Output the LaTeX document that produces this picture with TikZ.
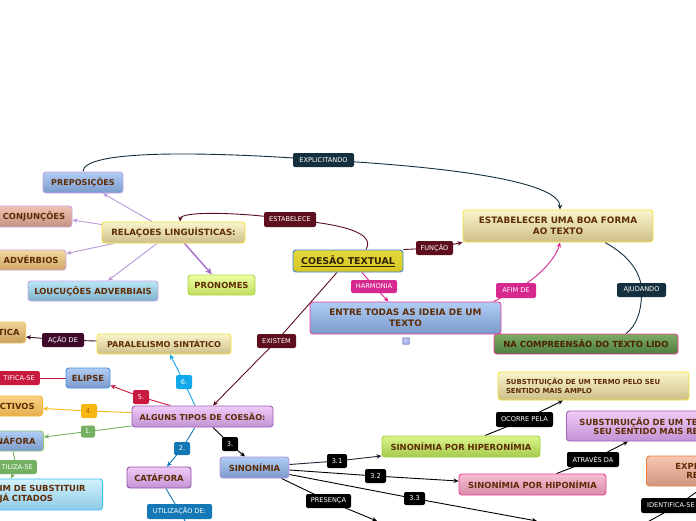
\documentclass[tikz,border=0pt]{standalone}
\usepackage{fontspec}
\setmainfont{DejaVu Sans}
\usetikzlibrary{arrows.meta}
\pgfdeclarelayer{bg}
\pgfdeclarelayer{edges}
\pgfsetlayers{bg,edges,main}
\definecolor{ntext}{HTML}{5E2C06}
\definecolor{navyc}{HTML}{14303F}
\definecolor{maroonc}{HTML}{5E0F1F}
\definecolor{pinkc}{HTML}{D6288E}
\definecolor{acaoc}{HTML}{3E0A2C}
\definecolor{redc}{HTML}{C8193E}
\definecolor{cyanc}{HTML}{12A8EC}
\definecolor{orangec}{HTML}{F8B612}
\definecolor{greenc}{HTML}{74B062}
\definecolor{bluec}{HTML}{1478B6}
\definecolor{lpurple}{HTML}{B89AD8}
\definecolor{pronc}{HTML}{A874CC}
\definecolor{blT}{HTML}{B0CDF4}
\definecolor{blB}{HTML}{7A9ACB}
\definecolor{yeT}{HTML}{FAF5CC}
\definecolor{yeB}{HTML}{CDBE88}
\definecolor{yeD}{HTML}{F2E23C}
\definecolor{puT}{HTML}{F0CCF8}
\definecolor{puB}{HTML}{C292D4}
\definecolor{puD}{HTML}{A060B8}
\definecolor{bdpurp}{HTML}{C8A6E6}
\definecolor{pkD}{HTML}{E8409C}
\definecolor{cjT}{HTML}{F0C2B2}\definecolor{cjB}{HTML}{C69282}
\definecolor{adT}{HTML}{F4D8A2}\definecolor{adB}{HTML}{CFA664}
\definecolor{loT}{HTML}{BAE6F6}\definecolor{loB}{HTML}{7EB2CA}
\definecolor{prT}{HTML}{EEFFA2}\definecolor{prB}{HTML}{C2DE5E}\definecolor{prD}{HTML}{A8D840}
\definecolor{coT}{HTML}{E6D83A}\definecolor{coB}{HTML}{D6C628}\definecolor{coD}{HTML}{3C88D8}\definecolor{coX}{HTML}{2E2200}
\definecolor{naT}{HTML}{7EAC62}\definecolor{naB}{HTML}{4E7E40}\definecolor{naX}{HTML}{4A2200}
\definecolor{tiT}{HTML}{F0D294}\definecolor{tiB}{HTML}{C8A060}\definecolor{tiD}{HTML}{E8C860}
\definecolor{elD}{HTML}{4890E0}
\definecolor{ecT}{HTML}{F8D282}\definecolor{ecB}{HTML}{E6AE50}\definecolor{ecD}{HTML}{F8B830}
\definecolor{nfD}{HTML}{90C870}
\definecolor{imT}{HTML}{D2F2FC}\definecolor{imB}{HTML}{8ECAE8}\definecolor{imD}{HTML}{40C0F0}
\definecolor{caD}{HTML}{9050A8}
\definecolor{siD}{HTML}{B890E0}
\definecolor{hiT}{HTML}{DAF58A}\definecolor{hiB}{HTML}{A6CA4E}\definecolor{hiD}{HTML}{A0D040}
\definecolor{hoT}{HTML}{F8BED2}\definecolor{hoB}{HTML}{D68CA8}
\definecolor{exT}{HTML}{F8C6B2}\definecolor{exB}{HTML}{CE9680}\definecolor{exD}{HTML}{F08040}
\definecolor{bgD}{HTML}{8080C0}\definecolor{bgF}{HTML}{A8B0E8}
\tikzset{
  box/.style={rounded corners=3pt, line width=0.9pt, font=\bfseries\fontsize{8.4}{10}\selectfont, text=ntext, align=center, inner sep=0pt},
  bluefill/.style={top color=blT, bottom color=blB},
  yelfill/.style={top color=yeT, bottom color=yeB},
  purfill/.style={top color=puT, bottom color=puB},
  lab/.style={rounded corners=2pt, text=white, font=\fontsize{6.6}{7.5}\selectfont, inner sep=0pt, minimum height=14},
  tip/.style={-{Stealth[length=5pt,width=4.5pt]}},
  edge/.style={line width=0.9pt}
}
\begin{document}
\begin{tikzpicture}[x=1pt,y=-1pt]
\useasboundingbox (0,0) rectangle (696,520);
\begin{pgfonlayer}{bg}\fill[white] (0,0) rectangle (696,520);\end{pgfonlayer}
\clip (0,0) rectangle (696,520);

% ---------- nodes ----------
\node[box, bluefill, draw=bdpurp, minimum width=80, minimum height=21, font=\bfseries\fontsize{8.1}{10}\selectfont] (prep) at (83,182.5) {PREPOSIÇÕES};
\node[box, top color=cjT, bottom color=cjB, draw=bdpurp, minimum width=76, minimum height=21] (conj) at (34,216.5) {CONJUNÇÕES};
\node[box, yelfill, draw=yeD, minimum width=143, minimum height=21, font=\bfseries\fontsize{8.6}{10}\selectfont] (rel) at (173.5,232.5) {RELAÇOES LINGUÍSTICAS:};
\node[box, top color=adT, bottom color=adB, draw=bdpurp, minimum width=70, minimum height=20] (adv) at (31,260) {ADVÉRBIOS};
\node[box, top color=loT, bottom color=loB, draw=bdpurp, minimum width=130, minimum height=20] (louc) at (93,291) {LOUCUÇÕES ADVERBIAIS};
\node[box, top color=prT, bottom color=prB, draw=prD, minimum width=67, minimum height=20] (pron) at (221.5,285) {PRONOMES};
\node[box, top color=coT, bottom color=coB, draw=coD, text=coX, minimum width=110, minimum height=22, font=\bfseries\fontsize{9.4}{11}\selectfont] (coesao) at (348,261) {\underline{COESÃO TEXTUAL}};
\node[box, yelfill, draw=yeD, minimum width=190, minimum height=32, font=\bfseries\fontsize{8.9}{11}\selectfont] (estab) at (558,226) {ESTABELECER UMA BOA FORMA\\AO TEXTO};
\node[box, bluefill, draw=pkD, minimum width=191, minimum height=32, font=\bfseries\fontsize{8.9}{10.8}\selectfont] (entre) at (405.5,318) {ENTRE TODAS AS IDEIA DE UM\\TEXTO};
\node[box, top color=naT, bottom color=naB, draw=pkD, text=naX, minimum width=184, minimum height=20] (na) at (586,344) {NA COMPREENSÃO DO TEXTO LIDO};
\node[box, yelfill, draw=yeD, minimum width=134, minimum height=20, font=\bfseries\fontsize{8.1}{10}\selectfont] (paral) at (164,344) {PARALELISMO SINTÁTICO};
\node[box, top color=tiT, bottom color=tiB, draw=tiD, anchor=east, text width=30, align=right, inner xsep=6, minimum height=21] (tica) at (26,332.5) {TICA};
\node[box, bluefill, draw=elD, minimum width=44, minimum height=20] (elipse) at (88,378) {ELIPSE};
\node[box, top color=ecT, bottom color=ecB, draw=ecD, anchor=east, text width=45, align=right, inner xsep=8, minimum height=20] (ect) at (43,406) {ECTIVOS};
\node[box, purfill, draw=puD, minimum width=141, minimum height=21, font=\bfseries\fontsize{8.1}{10}\selectfont] (alg) at (202.5,416.5) {ALGUNS TIPOS DE COESÃO:};
\node[box, bluefill, draw=nfD, anchor=east, text width=40, align=right, inner xsep=8, minimum height=20] (naf) at (44,441) {NÁFORA};
\node[box, top color=imT, bottom color=imB, draw=imD, anchor=east, text width=95, align=left, inner xsep=8, minimum height=31, font=\bfseries\fontsize{8.4}{10}\selectfont] (im) at (103,494.5) {IM DE SUBSTITUIR\\JÁ CITADOS};
\node[box, purfill, draw=caD, minimum width=64, minimum height=21] (cat) at (159,477.5) {CATÁFORA};
\node[box, bluefill, draw=siD, minimum width=69, minimum height=21] (sin) at (254.5,467.5) {SINONÍMIA};
\node[box, top color=hiT, bottom color=hiB, draw=hiD, minimum width=158, minimum height=21] (hiper) at (461,446.5) {SINONÍMIA POR HIPERONÍMIA};
\node[box, yelfill, draw=yeD, minimum width=191, minimum height=28, text width=175, align=left, font=\bfseries\fontsize{6.9}{8.4}\selectfont] (subA) at (593.5,386) {SUBSTITUIÇÃO DE UM TERMO PELO SEU\\SENTIDO MAIS AMPLO};
\node[box, purfill, draw=puD, anchor=west, text width=170, align=left, inner xsep=13, minimum height=30, font=\bfseries\fontsize{8.4}{9.4}\selectfont] (subB) at (566,426) {SUBSTIRUIÇÃO DE UM TE\\\hspace*{14pt}SEU SENTIDO MAIS RE};
\node[box, top color=hoT, bottom color=hoB, draw=pkD, minimum width=147, minimum height=21] (hipo) at (532.5,484.5) {SINONÍMIA POR HIPONÍMIA};
\node[box, top color=exT, bottom color=exB, draw=exD, anchor=west, text width=50, align=left, inner xsep=29, minimum height=30, font=\bfseries\fontsize{8.4}{9.4}\selectfont] (expr) at (646,471) {EXPR\\\hspace*{11pt}RE};
\node[draw=bgD, fill=bgF, rounded corners=1pt, minimum size=7, inner sep=0pt, font=\fontsize{5}{5}\selectfont, text=white] (badge) at (406,341) {1};

% ---------- labels ----------
\node[lab, fill=navyc, minimum width=61] (explic) at (323.5,160) {EXPLICITANDO};
\node[lab, fill=maroonc, minimum width=52, minimum height=15] (estabelece) at (290,219.5) {ESTABELECE};
\node[lab, fill=maroonc, minimum width=37] (funcao) at (434.5,248) {FUNÇÃO};
\node[lab, fill=pinkc, minimum width=46, minimum height=13] (harmonia) at (374,286.5) {HARMONIA};
\node[lab, fill=pinkc, minimum width=40, minimum height=15] (afim) at (516,290.5) {AFIM DE};
\node[lab, fill=navyc, minimum width=49] (ajudando) at (641.5,290) {AJUDANDO};
\node[lab, fill=maroonc, minimum width=39] (existem) at (276.5,341) {EXISTEM};
\node[lab, fill=acaoc, minimum width=42] (acao) at (63,340) {AÇÃO DE};
\node[lab, fill=redc, anchor=east, text width=35, align=right, inner xsep=5] (tifica) at (40,378) {TIFICA-SE};
\node[lab, fill=redc, minimum width=16] (five) at (141,397) {5.};
\node[lab, fill=cyanc, minimum width=16] (six) at (184,382) {6.};
\node[lab, fill=orangec, text=ntext!60!orangec, minimum width=16] (four) at (89,411) {4.};
\node[lab, fill=greenc, minimum width=14, minimum height=12] (one) at (88,431.5) {1.};
\node[lab, fill=bluec, minimum width=16, minimum height=13] (two) at (182,448.5) {2.};
\node[lab, fill=black, minimum width=16] (three) at (230,444) {3.};
\node[lab, fill=greenc, anchor=east, text width=33, align=right, inner xsep=4] (utiliza) at (37,467) {TILIZA-SE};
\node[lab, fill=bluec, minimum width=65, minimum height=15] (utilizacao) at (179.5,511.5) {UTILIZAÇÃO DE:};
\node[lab, fill=black, minimum width=20] (t31) at (337,461) {3.1};
\node[lab, fill=black, minimum width=21] (t32) at (375.5,476) {3.2};
\node[lab, fill=black, minimum width=21, minimum height=13] (t33) at (414.5,498.5) {3.3};
\node[lab, fill=black, minimum width=45] (presenca) at (328.5,501) {PRESENÇA};
\node[lab, fill=black, minimum width=57, minimum height=15] (ocorre) at (524.5,419.5) {OCORRE PELA};
\node[lab, fill=black, minimum width=52, minimum height=15] (atraves) at (593,459.5) {ATRAVÉS DA};
\node[lab, fill=black, anchor=west, text width=60, align=left, inner xsep=6, minimum height=15] (ident) at (641,505.5) {IDENTIFICA-SE};

\coordinate (utilend) at (188,526);
\coordinate (e33) at (537,521);
\coordinate (epres) at (377,521);
\coordinate (idA) at (644,524);
\coordinate (idB) at (708,484);

% ---------- connectors ----------
\begin{pgfonlayer}{edges}
\draw[edge, navyc, tip] (prep.north) .. controls (83,150) and (200,151) .. (explic.center) .. controls (470,168) and (560,184) .. ([xshift=2]estab.north);
\draw[edge, maroonc, tip] ([xshift=18]coesao.north) .. controls (376,232) and (340,224) .. (estabelece.center) .. controls (240,212) and (181,211) .. ([xshift=6.5]rel.north);
\draw[edge, maroonc, tip] (coesao.north east) -- (funcao.center) -- (estab.south west);
\draw[edge, pinkc, tip] ([xshift=14]coesao.south) -- (harmonia.center) -- ([xshift=-17]entre.north);
\draw[edge, pinkc, tip] ([xshift=-8]entre.north east) -- (afim.center) .. controls (540,276) and (556,258) .. ([xshift=2]estab.south);
\draw[edge, navyc] ([xshift=47]estab.south) .. controls (628,255) and (641,272) .. (ajudando.center) .. controls (642,312) and (636,326) .. ([xshift=40]na.north);
\draw[edge, maroonc, tip] ([xshift=-11]coesao.south) -- (existem.center) -- ([xshift=10.5]alg.north);

\draw[edge, lpurple, tip] ([xshift=-21.5]rel.north) -- ([xshift=20]prep.south);
\draw[edge, lpurple, tip] ([yshift=8]rel.west) -- ([yshift=-3.5]conj.east);
\draw[edge, lpurple, tip] ([xshift=12]rel.south west) -- ([yshift=6.5]adv.east);
\draw[edge, lpurple, tip] ([xshift=-16.5]rel.south) -- ([xshift=15]louc.north);
\draw[line width=1.5pt, pronc, -{Stealth[length=7pt,width=6pt]}] ([xshift=11]rel.south) -- ([xshift=-9.5]pron.north);

\draw[edge, cyanc, tip] ([xshift=-7.5]alg.north) -- (six.center) -- ([xshift=6]paral.south);
\draw[edge, acaoc, tip] ([yshift=3]paral.west) -- (acao.center) -- ([yshift=-4.5]tica.east);
\draw[edge, redc, tip] ([xshift=-32]alg.north) -- (five.center) -- ([yshift=3]elipse.south east);
\draw[edge, redc] (elipse.west) -- (tifica.center);
\draw[edge, orangec, tip] ([yshift=4]alg.west) -- (four.center) -- ([yshift=-2.5]ect.east);
\draw[edge, greenc, tip] ([yshift=1.5]alg.south west) -- (one.center) -- ([yshift=4]naf.east);
\draw[edge, greenc, tip] ([xshift=-31]naf.south east) -- (utiliza.center) -- ([xshift=-92]im.north east);
\draw[edge, bluec, tip] ([xshift=-7.5]alg.south) -- (two.center) -- ([xshift=8]cat.north);
\draw[edge, bluec] ([xshift=7]cat.south) -- (utilizacao.center) -- (utilend);
\draw[edge, black, tip] ([xshift=10.5]alg.south) -- (three.center) -- ([xshift=-9.5]sin.north);

\draw[edge, black!70!puD, -{Stealth[length=5pt,width=4.5pt,fill=puD]}] ([yshift=3]sin.east) -- (t31.center) -- ([yshift=1.5]hiper.south west);
\draw[edge, black, tip] ([yshift=-2.5]sin.east) -- (t32.center) -- ([yshift=3.5]hipo.west);
\draw[edge, black, tip] ([yshift=-7]sin.east) -- (t33.center) -- (e33);
\draw[edge, black, tip] ([xshift=-8]sin.south east) -- (presenca.center) -- (epres);
\draw[edge, black, tip] ([xshift=24]hiper.north) -- (ocorre.center) -- ([xshift=-30.5]subA.south);
\draw[edge, black, tip] ([xshift=24]hipo.north) -- (atraves.center) -- ([xshift=62]subB.south west);
\draw[edge, black] (idA) -- (ident.center) -- (idB);
\end{pgfonlayer}
\end{tikzpicture}
\end{document}
